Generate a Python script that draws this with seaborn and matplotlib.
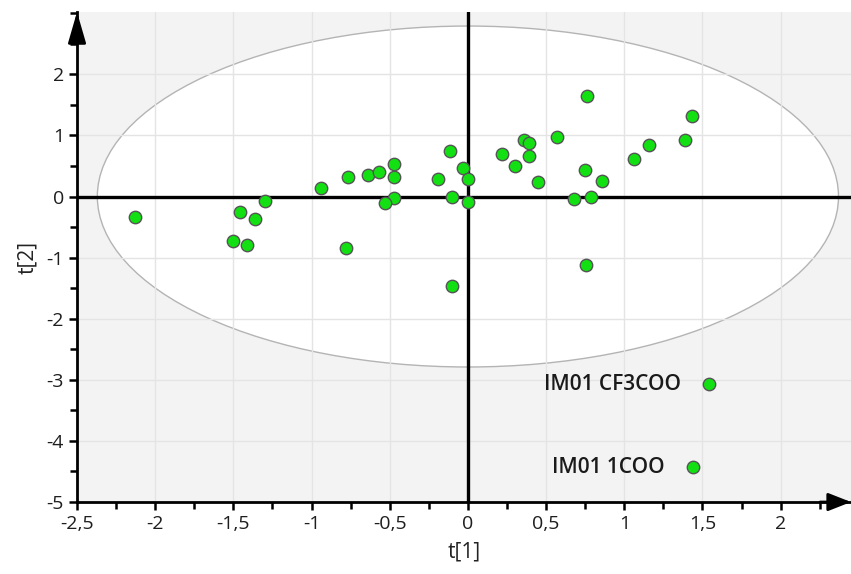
import numpy as np
import pandas as pd
import matplotlib
matplotlib.use("Agg")
import matplotlib.pyplot as plt
import seaborn as sns
from matplotlib.patches import Ellipse
from matplotlib.ticker import MultipleLocator, FixedLocator, FuncFormatter

# score values
t1 = [-2.13, -1.46, -1.50, -1.41, -1.36, -1.30, -0.94, -0.77, -0.78, -0.64,
      -0.57, -0.47, -0.47, -0.475, -0.53, -0.19, -0.115, -0.10, -0.10, -0.03,
      0.00, 0.00, 0.22, 0.30, 0.36, 0.39, 0.39, 0.45, 0.57, 0.68,
      0.76, 0.746, 0.855, 0.79, 0.755, 1.06, 1.16, 1.39, 1.43]
t2 = [-0.34, -0.26, -0.72, -0.80, -0.37, -0.07, 0.14, 0.32, -0.84, 0.35,
      0.40, 0.53, 0.32, -0.02, -0.11, 0.28, 0.74, 0.00, -1.46, 0.47,
      0.28, -0.09, 0.70, 0.50, 0.92, 0.88, 0.67, 0.23, 0.98, -0.04,
      1.65, 0.44, 0.26, -0.005, -1.12, 0.62, 0.84, 0.93, 1.32]

outlier_names = ["IM01 CF3COO", "IM01 1COO"]
outlier_t1 = [1.54, 1.437]
outlier_t2 = [-3.07, -4.43]

# Hotelling T2 ellipse semi-axes
ell_a = 2.37
ell_b = 2.79

y_ticks = [-5, -4, -3, -2, -1, 0, 1, 2]

df = pd.DataFrame({"t1": t1 + outlier_t1, "t2": t2 + outlier_t2})

sns.set_style("white")
plt.rcParams["font.family"] = ["Open Sans", "DejaVu Sans"]
plt.rcParams["xtick.labelsize"] = 14
plt.rcParams["ytick.labelsize"] = 14

fig = plt.figure(figsize=(8.51, 5.74), dpi=100)
ax = fig.add_axes([0.0905, 0.1254, 0.9095, 0.8537])
ax.set_facecolor("#f3f3f3")
ax.set_axisbelow(True)

ax.add_patch(Ellipse((0, 0), 2 * ell_a, 2 * ell_b, facecolor="white",
                     edgecolor="#b4b4b4", lw=1.0, zorder=0.2))
ax.grid(True, which="major", color="#e4e4e4", lw=1.0)

ax.axhline(0, color="black", lw=2.4, zorder=1.5)
ax.axvline(0, color="black", lw=2.4, zorder=1.5)

sns.scatterplot(data=df, x="t1", y="t2", ax=ax, s=80, color="#12e012",
                edgecolor="#555555", linewidth=1.0, zorder=3, legend=False)

for name, x, y in zip(outlier_names, outlier_t1, outlier_t2):
    ax.annotate(name, (x, y), xytext=(-20, 0), textcoords="offset points",
                ha="right", va="center", fontsize=15, color="#1a1a1a",
                fontweight="semibold")

ax.set_xlim(-2.5, 2.45)
ax.set_ylim(-5, 3.02)
ax.xaxis.set_major_locator(MultipleLocator(0.5))
ax.xaxis.set_minor_locator(MultipleLocator(0.25))
ax.yaxis.set_major_locator(FixedLocator(y_ticks))
ax.yaxis.set_minor_locator(MultipleLocator(0.5))


def comma_fmt(v, pos):
    s = f"{v:g}".replace(".", ",")
    return "0" if s in ("-0", "0") else s


ax.xaxis.set_major_formatter(FuncFormatter(comma_fmt))
ax.yaxis.set_major_formatter(FuncFormatter(comma_fmt))
ax.tick_params(which="major", direction="out", length=6, width=1.8,
               color="black", labelsize=14, labelcolor="#1e1e1e",
               bottom=True, left=True)
ax.tick_params(which="minor", direction="out", length=5, width=1.8,
               color="black", bottom=True, left=True)

for side in ["top", "right"]:
    ax.spines[side].set_visible(False)
for side in ["left", "bottom"]:
    ax.spines[side].set_color("black")
    ax.spines[side].set_linewidth(2.0)

# arrow heads on the axes
ax.annotate("", xy=(0, 1.0), xytext=(0, 0.94), xycoords="axes fraction",
            arrowprops=dict(arrowstyle="-|>,head_length=1.9,head_width=0.55",
                            color="black", lw=2.0, shrinkA=0, shrinkB=0),
            annotation_clip=False)
ax.annotate("", xy=(1.0, 0), xytext=(0.96, 0), xycoords="axes fraction",
            arrowprops=dict(arrowstyle="-|>,head_length=1.4,head_width=0.55",
                            color="black", lw=2.0, shrinkA=0, shrinkB=0),
            annotation_clip=False)

ax.set_xlabel("t[1]", fontsize=15, color="#222222", labelpad=6)
ax.set_ylabel("t[2]", fontsize=15, color="#222222", labelpad=6)

fig.savefig("out.png", dpi=100)
